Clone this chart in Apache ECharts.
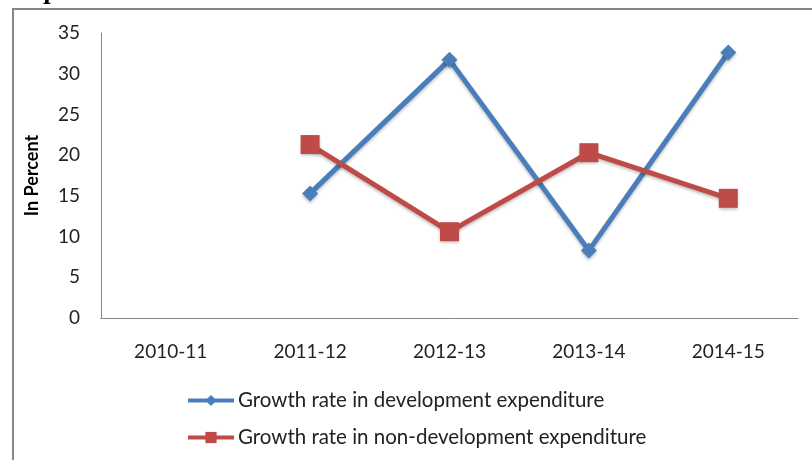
<!DOCTYPE html>
<html>
<head>
<meta charset="utf-8">
<script src="https://cdn.jsdelivr.net/npm/echarts@6/dist/echarts.min.js"></script>
<style>
  html, body { margin: 0; padding: 0; background: #fff; }
  #chart { width: 812px; height: 460px; }
</style>
</head>
<body>
<div id="chart"></div>
<script>
const years = ["2010-11", "2011-12", "2012-13", "2013-14", "2014-15"];
const devGrowth = [null, 15.3, 31.7, 8.3, 32.6];
const nonDevGrowth = [null, 21.3, 10.6, 20.3, 14.7];
const seriesNames = [
  "Growth rate in development expenditure",
  "Growth rate in non-development expenditure",
];

const chart = echarts.init(document.getElementById("chart"));
const labelFont = "Lato, 'Open Sans', sans-serif";

function lineSeries(name, data, color, symbol, size) {
  return {
    name,
    type: "line",
    data,
    symbol,
    symbolSize: size,
    connectNulls: false,
    lineStyle: { color, width: 5, shadowColor: "rgba(0,0,0,0.25)", shadowBlur: 3, shadowOffsetY: 2 },
    itemStyle: { color, shadowColor: "rgba(0,0,0,0.25)", shadowBlur: 3, shadowOffsetY: 2 },
  };
}

chart.setOption({
  animation: false,
  backgroundColor: "#ffffff",
  title: {
    text: "expenditure",
    left: 12,
    top: -21,
    textStyle: { fontFamily: "'DejaVu Serif', 'Liberation Serif', serif", fontWeight: "bold", fontSize: 21, color: "#000" },
  },
  graphic: [
    {
      type: "rect",
      shape: { x: 13, y: 9, width: 820, height: 470 },
      style: { fill: "none", stroke: "#868686", lineWidth: 2 },
      silent: true,
    },
  ],
  legend: {
    orient: "vertical",
    left: 186,
    top: 390,
    padding: 0,
    itemWidth: 46,
    itemHeight: 14,
    itemGap: 16,
    lineStyle: { width: 4 },
    textStyle: { fontFamily: labelFont, fontSize: 20.5, color: "#222", padding: [0, 0, 0, -1] },
    data: seriesNames,
  },
  grid: { left: 101, right: 14, top: 33, bottom: 142 },
  xAxis: {
    type: "category",
    data: years,
    boundaryGap: true,
    axisLine: { lineStyle: { color: "#868686", width: 1 } },
    axisTick: { show: false },
    axisLabel: { color: "#222", fontFamily: labelFont, fontSize: 19, margin: 24 },
    splitLine: { show: false },
  },
  yAxis: {
    type: "value",
    min: 0,
    max: 35,
    interval: 5,
    name: "In Percent",
    nameLocation: "middle",
    nameGap: 60,
    nameTextStyle: { fontFamily: labelFont, fontWeight: "bold", fontSize: 18, color: "#000" },
    axisLine: { show: true, lineStyle: { color: "#868686", width: 1 } },
    axisTick: { show: false },
    axisLabel: { color: "#222", fontFamily: labelFont, fontSize: 19, margin: 21 },
    splitLine: { show: false },
  },
  series: [
    lineSeries(seriesNames[0], devGrowth, "#4A7EBB", "diamond", 16),
    lineSeries(seriesNames[1], nonDevGrowth, "#BE4B48", "rect", 19),
  ],
});
</script>
</body>
</html>
